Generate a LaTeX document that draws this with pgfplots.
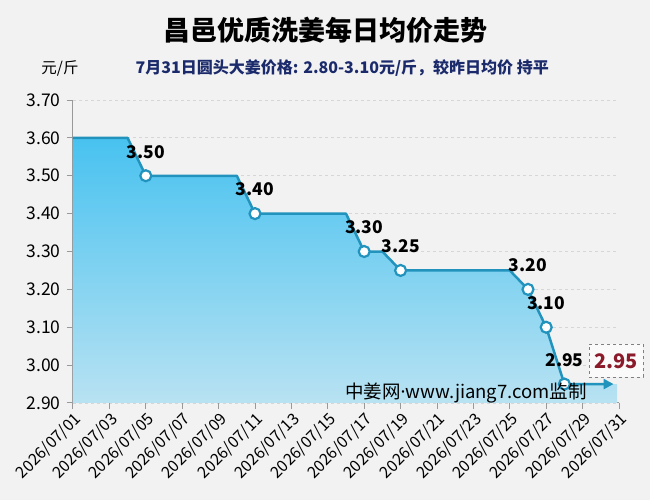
\documentclass[border=0pt]{standalone}
\usepackage{fontspec}
\setmainfont{Noto Sans CJK SC}
\newfontfamily\latinfont{Noto Sans}
\usepackage{pgfplots}
\pgfplotsset{compat=1.18}
\usetikzlibrary{arrows.meta}
\definecolor{bg}{HTML}{F2F2F2}
\definecolor{lineC}{HTML}{2293BD}
\definecolor{fillTop}{HTML}{48C2F0}
\definecolor{fillBot}{HTML}{B8E2F2}
\definecolor{gridC}{HTML}{D6D6D6}
\definecolor{axC}{HTML}{999999}
\definecolor{subC}{HTML}{1B2A6B}
\definecolor{redC}{HTML}{8B1A2B}
\begin{document}
\begin{tikzpicture}
\useasboundingbox (0,0) rectangle (650pt,500pt);
\fill[bg] (0,0) rectangle (650pt,500pt);
\node[font=\fontsize{27}{30}\selectfont\bfseries] at (325pt,470pt) {昌邑优质洗姜每日均价走势};
\node[font=\fontsize{16}{18}\selectfont\bfseries, text=subC, anchor=west] at (132pt,432pt) {7月31日圆头大姜价格: 2.80-3.10元/斤，较昨日均价 持平};
\node[font=\fontsize{15.5}{18}\selectfont] at (60pt,432pt) {元/斤};
\begin{axis}[at={(73pt,97pt)}, anchor=south west, scale only axis,
  width=546pt, height=303pt,
  xmin=1, xmax=31, ymin=2.9, ymax=3.7,
  axis lines*=left,
  axis line style={axC, line width=1pt},
  /pgf/number format/assume math mode=true,
  ytick={2.9,3.0,3.1,3.2,3.3,3.4,3.5,3.6,3.7},
  yticklabel style={/pgf/number format/fixed, /pgf/number format/fixed zerofill, /pgf/number format/precision=2, font=\fontsize{17.5}{20}\selectfont, xshift=-3pt},
  xtick={1,3,...,31},
  xticklabels={2026/07/01,2026/07/03,2026/07/05,2026/07/07,2026/07/09,2026/07/11,2026/07/13,2026/07/15,2026/07/17,2026/07/19,2026/07/21,2026/07/23,2026/07/25,2026/07/27,2026/07/29,2026/07/31},
  xticklabel style={rotate=45, anchor=north east, font=\fontsize{16}{18}\selectfont, inner sep=1.5pt},
  tick align=outside, major tick length=6pt,
  tick style={axC, line width=1pt},
  ymajorgrids, major grid style={dashed, gridC, line width=0.8pt},
  clip=false,
]
\addplot[draw=none, top color=fillTop, bottom color=fillBot] coordinates {
(1,3.60)(2,3.60)(3,3.60)(4,3.60)(5,3.50)(6,3.50)(7,3.50)(8,3.50)(9,3.50)(10,3.50)
(11,3.40)(12,3.40)(13,3.40)(14,3.40)(15,3.40)(16,3.40)(17,3.30)(18,3.30)(19,3.25)
(20,3.25)(21,3.25)(22,3.25)(23,3.25)(24,3.25)(25,3.25)(26,3.20)(27,3.10)(28,2.95)
(29,2.95)(30,2.95)(30.9,2.95)} \closedcycle;
\addplot[lineC, line width=2.5pt, line join=round, -{Triangle[length=10pt,width=10pt]}] coordinates {
(1,3.60)(2,3.60)(3,3.60)(4,3.60)(5,3.50)(6,3.50)(7,3.50)(8,3.50)(9,3.50)(10,3.50)
(11,3.40)(12,3.40)(13,3.40)(14,3.40)(15,3.40)(16,3.40)(17,3.30)(18,3.30)(19,3.25)
(20,3.25)(21,3.25)(22,3.25)(23,3.25)(24,3.25)(25,3.25)(26,3.20)(27,3.10)(28,2.95)
(29,2.95)(30,2.95)(30.7,2.95)};
\addplot[only marks, mark=*, mark size=5.5pt, mark options={fill=white, draw=lineC, line width=2.2pt},
  point meta=y,
  nodes near coords={\pgfmathprintnumber[fixed,fixed zerofill,precision=2]{\pgfplotspointmeta}},
  every node near coord/.append style={anchor=center, yshift=24pt, font=\fontsize{17.5}{20}\selectfont\bfseries, text=black}]
coordinates {(5,3.50)(11,3.40)(17,3.30)(19,3.25)(26,3.20)(27,3.10)(28,2.95)};
\end{axis}
\node[font=\fontsize{18.5}{20}\selectfont] at (466pt,107pt) {中姜网{\latinfont\char"00B7}www.jiang7.com监制};
\node[draw=gray, dashed, fill=white!60!bg, line width=0.8pt, minimum width=54pt, minimum height=33pt,
  font=\fontsize{20}{22}\selectfont\bfseries, text=redC] at (616pt,139pt) {2.95};
\end{tikzpicture}
\end{document}
